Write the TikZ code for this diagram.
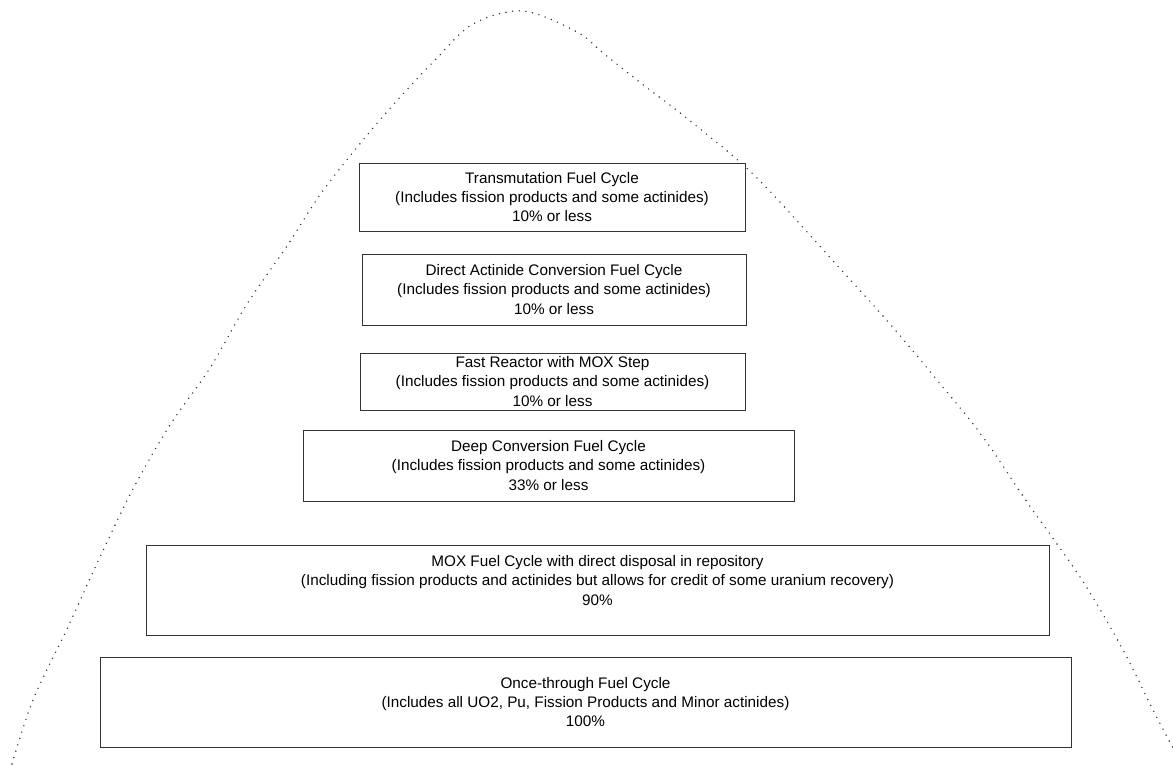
\documentclass[tikz,border=0pt]{standalone}
\usepackage{fontspec}
\setmainfont{Liberation Sans}
\usepackage{xcolor}
\usetikzlibrary{positioning}

\begin{document}
\begin{tikzpicture}[x=0.2mm, y=-0.2mm,
    cyclebox/.style={draw=black!80, line width=0.5pt, fill=white, inner sep=0pt,
        align=center, font=\fontsize{8.7}{11}\selectfont},
    bell/.style={black!80, line width=0.9pt, line cap=round,
        dash pattern=on 0pt off 3.8pt}]
    \useasboundingbox (0,0) rectangle (1173,764);

    % Bell curve behind the boxes
    \draw[bell] plot[smooth, tension=0.55] coordinates {
        (12,764) (33,700) (67,629) (100,557) (133,489) (170,425) (210,368)
        (247,304) (287,246) (322,192) (368,134) (403,94) (437,58) (473,24)
        (523,11) (577,32) (603,53) (637,80) (694,124) (756,177) (835,263)
        (890,324) (937,380) (983,437) (1027,502) (1082,580) (1123,650)
        (1153,710) (1173,748)};

    % Fuel cycle boxes, top to bottom
    \node[cyclebox, minimum width=77.2mm, minimum height=13.6mm] (trans) at (552,197)
        {Transmutation Fuel Cycle\\(Includes fission products and some actinides)\\10\% or less};
    \node[cyclebox, minimum width=76.8mm, minimum height=14.2mm] (dac) at (554,289.5)
        {Direct Actinide Conversion Fuel Cycle\\(Includes fission products and some actinides)\\10\% or less};
    \node[cyclebox, minimum width=77mm, minimum height=11.4mm] (fast) at (552.5,381.5)
        {Fast Reactor with MOX Step\\(Includes fission products and some actinides)\\10\% or less};
    \node[cyclebox, minimum width=98.2mm, minimum height=14.2mm] (deep) at (548.5,465.5)
        {Deep Conversion Fuel Cycle\\(Includes fission products and some actinides)\\33\% or less};
    \node[cyclebox, minimum width=180.6mm, minimum height=18mm] (mox) at (597.5,590)
        {MOX Fuel Cycle with direct disposal in repository\\(Including fission products and actinides but allows for credit of some uranium recovery)\\90\%\\~};
    \node[cyclebox, minimum width=194.2mm, minimum height=18mm] (once) at (585.5,702)
        {Once-through Fuel Cycle\\(Includes all UO2, Pu, Fission Products and Minor actinides)\\100\%};
\end{tikzpicture}
\end{document}
